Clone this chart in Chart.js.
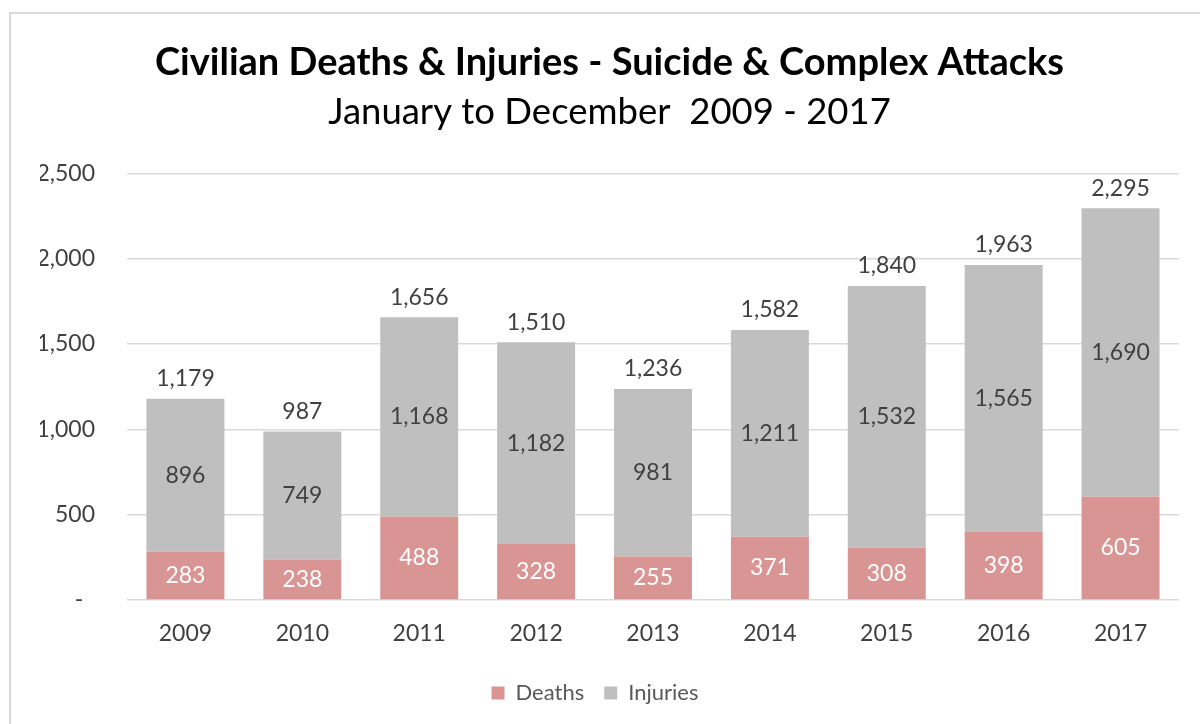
<!DOCTYPE html>
<html>
<head>
<meta charset="utf-8">
<script src="https://cdn.jsdelivr.net/npm/chart.js@4"></script>
<style>
  html, body { margin: 0; padding: 0; background: #ffffff; overflow: hidden; }
  #wrap { position: relative; width: 1200px; height: 724px; overflow: hidden; }
  #frame { position: absolute; left: 9px; top: 12px; width: 1400px; height: 900px; border: 2px solid #D9D9D9; box-sizing: border-box; }
  canvas { position: absolute; left: 0; top: 0; }
</style>
</head>
<body>
<div id="wrap">
  <div id="frame"></div>
  <canvas id="c" width="1200" height="724"></canvas>
</div>
<script>
const years = ['2009', '2010', '2011', '2012', '2013', '2014', '2015', '2016', '2017'];
const deaths = [283, 238, 488, 328, 255, 371, 308, 398, 605];
const injuries = [896, 749, 1168, 1182, 981, 1211, 1532, 1565, 1690];
const yTicks = [0, 500, 1000, 1500, 2000, 2500];

const FONT = 'Lato, "Open Sans", sans-serif';
const fmt = v => v.toLocaleString('en-US');

const valueLabels = {
  id: 'valueLabels',
  afterDatasetsDraw(chart) {
    const ctx = chart.ctx;
    ctx.save();
    ctx.font = '23px ' + FONT;
    ctx.textAlign = 'center';
    ctx.textBaseline = 'middle';
    const colors = ['#FFFFFF', '#404040'];
    chart.data.datasets.forEach((ds, i) => {
      const meta = chart.getDatasetMeta(i);
      ctx.fillStyle = colors[i];
      meta.data.forEach((bar, j) => {
        const p = bar.getProps(['x', 'y', 'base'], true);
        ctx.fillText(fmt(ds.data[j]), p.x, (p.y + p.base) / 2);
      });
    });
    const top = chart.getDatasetMeta(1);
    ctx.fillStyle = '#404040';
    top.data.forEach((bar, j) => {
      const p = bar.getProps(['x', 'y'], true);
      ctx.fillText(fmt(deaths[j] + injuries[j]), p.x, p.y - 20);
    });
    ctx.restore();
  },
  afterLayout(chart) {
    const lg = chart.legend;
    if (lg) { lg.left -= 29; }
  }
};

new Chart(document.getElementById('c'), {
  type: 'bar',
  data: {
    labels: years,
    datasets: [
      { label: 'Deaths', data: deaths, backgroundColor: '#D99594', borderWidth: 0 },
      { label: 'Injuries', data: injuries, backgroundColor: '#BFBFBF', borderWidth: 0 }
    ]
  },
  plugins: [valueLabels],
  options: {
    responsive: false,
    animation: false,
    layout: { padding: { top: 0, left: 40, right: 21, bottom: 10 } },
    datasets: { bar: { barPercentage: 0.667, categoryPercentage: 1 } },
    plugins: {
      title: {
        display: true,
        text: 'Civilian Deaths & Injuries - Suicide & Complex Attacks',
        color: '#000000',
        font: { family: FONT, size: 38, weight: 'bold', lineHeight: 1.2 },
        padding: { top: 40.2, bottom: 0 }
      },
      subtitle: {
        display: true,
        text: 'January to December  2009 - 2017',
        color: '#000000',
        font: { family: FONT, size: 36.5, weight: 'normal', lineHeight: 1.2 },
        padding: { top: 4.8, bottom: 38.9 }
      },
      legend: {
        position: 'bottom',
        labels: {
          boxWidth: 13, boxHeight: 13, padding: 20,
          color: '#595959',
          font: { family: FONT, size: 22 }
        }
      },
      tooltip: { enabled: false }
    },
    scales: {
      x: {
        stacked: true,
        grid: { display: false, drawTicks: false },
        border: { display: false },
        ticks: { color: '#404040', font: { family: FONT, size: 23 }, padding: 20 },
        afterFit: s => { s.height = 62; }
      },
      y: {
        stacked: true,
        min: 0, max: 2500,
        afterBuildTicks: s => { s.ticks = yTicks.map(v => ({ value: v })); },
        grid: { color: '#D9D9D9', lineWidth: 1.5, drawTicks: false },
        border: { display: false },
        ticks: {
          color: '#404040', font: { family: FONT, size: 23 }, padding: 32,
          callback: v => v === 0 ? '-  ' : fmt(v)
        },
        afterFit: s => { s.width = 87; }
      }
    }
  }
});
</script>
</body>
</html>
